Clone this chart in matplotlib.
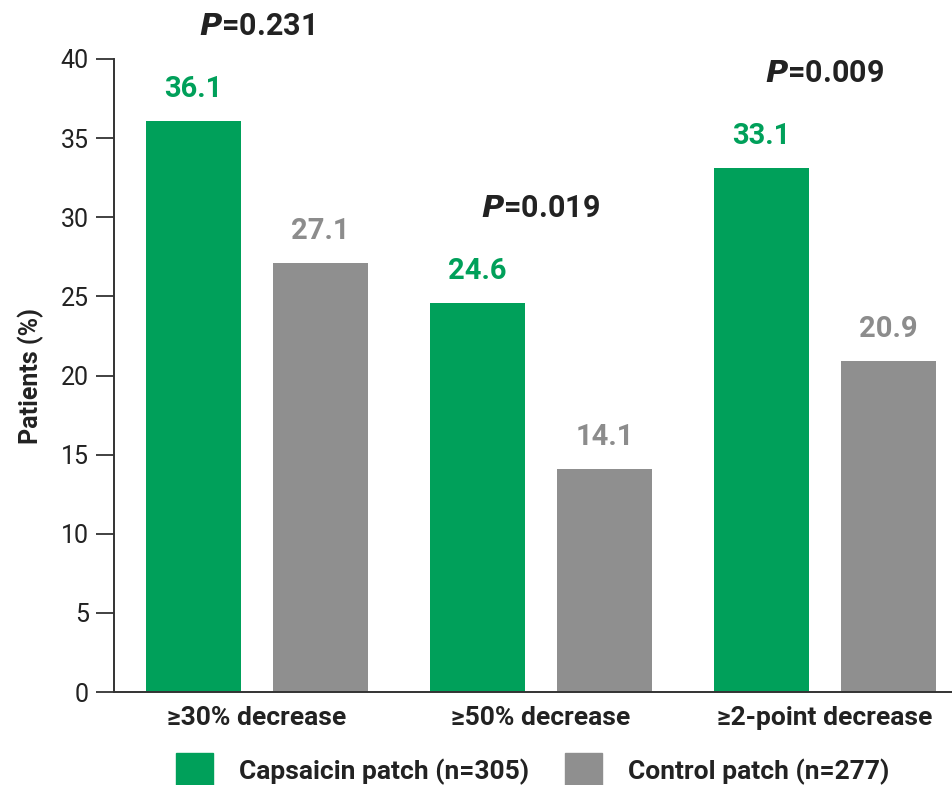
import numpy as np
import matplotlib.pyplot as plt
from matplotlib.patches import Patch

# Data
categories = ['≥30% decrease', '≥50% decrease', '≥2-point decrease']
capsaicin = [36.1, 24.6, 33.1]
control = [27.1, 14.1, 20.9]
p_values = ['0.231', '0.019', '0.009']
p_heights = [42.1, 30.6, 39.1]
series_names = ['Capsaicin patch (n=305)', 'Control patch (n=277)']

green = '#00A05A'
grey = '#8F8F8F'
dark = '#222222'

plt.rcParams['font.family'] = ['Roboto', 'DejaVu Sans']

fig = plt.figure(figsize=(9.53, 7.85), dpi=100)
ax = fig.add_axes([114 / 953, 1 - 692 / 785, 1 - 114 / 953, (692 - 59) / 785])

x = np.arange(len(categories))
w = 0.3345
off = 0.2236
b1 = ax.bar(x - off, capsaicin, w, color=green)
b2 = ax.bar(x + off, control, w, color=grey)

# Value labels above bars
for xi, v in zip(x, capsaicin):
    ax.annotate(f'{v}', (xi - off, v), xytext=(0, 23), textcoords='offset points',
                ha='center', va='center', fontsize=21, fontweight='bold', color=green)
for xi, v in zip(x, control):
    ax.annotate(f'{v}', (xi + off, v), xytext=(0, 23), textcoords='offset points',
                ha='center', va='center', fontsize=21, fontweight='bold', color='#8C8C8C')

# P values
for xi, p, h in zip(x, p_values, p_heights):
    ax.text(xi, h, r'$\bfit{P}$' + f'={p}', ha='center', va='center', fontsize=22,
            fontweight='bold', color=dark, clip_on=False)

ax.set_ylim(0, 40)
ax.set_xlim(-0.5035, 2.4507)
ax.set_yticks(range(0, 41, 5))
ax.set_xticks(x)
ax.set_xticklabels(categories, fontsize=19, fontweight='bold', color=dark)
ax.tick_params(axis='x', length=0, pad=10)
ax.tick_params(axis='y', length=13, width=1.3, color='#333333', labelsize=18,
               labelcolor=dark, pad=5)
ax.set_ylabel('Patients (%)', fontsize=18, fontweight='bold', color=dark, labelpad=12)

for s in ['top', 'right']:
    ax.spines[s].set_visible(False)
for s in ['left', 'bottom']:
    ax.spines[s].set_color('#333333')
    ax.spines[s].set_linewidth(1.4)

handles = [Patch(color=green), Patch(color=grey)]
fig.legend(handles, series_names, loc='lower left', bbox_to_anchor=(176 / 953, -0.005),
           ncol=2, frameon=False, prop={'weight': 'bold', 'size': 19},
           handlelength=1.4, handleheight=1.7, handletextpad=1.0, columnspacing=1.33,
           borderpad=0, borderaxespad=0, labelcolor=dark)

fig.savefig('out.png', dpi=100)
